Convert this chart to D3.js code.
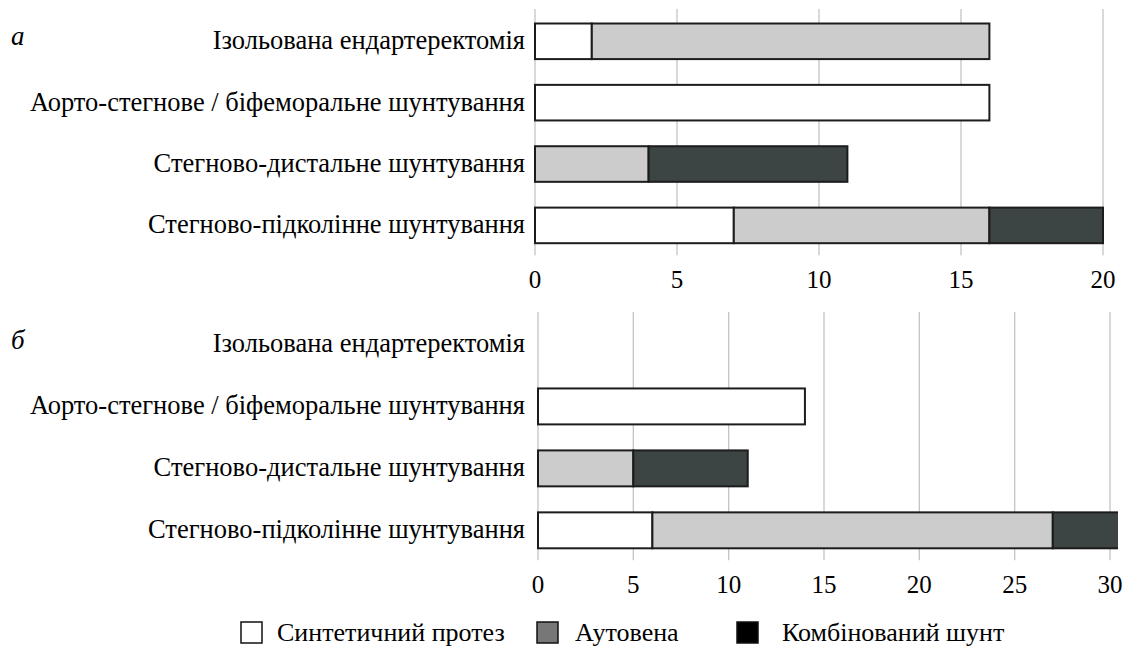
<!DOCTYPE html>
<html>
<head>
<meta charset="utf-8">
<script src="https://cdn.jsdelivr.net/npm/d3@7"></script>
</head>
<body style="margin:0">
<svg id="chart" width="1126" height="649"></svg>
<script>
// Categories (top to bottom)
const categories = [
    "Ізольована ендартеректомія",
    "Аорто-стегнове / біфеморальне шунтування",
    "Стегново-дистальне шунтування",
    "Стегново-підколінне шунтування"
];
const seriesNames = ["Синтетичний протез", "Аутовена", "Комбінований шунт"];

// Panel а
const synthA = [2, 16, 0, 7];
const autoA = [14, 0, 4, 9];
const combA = [0, 0, 7, 4];

// Panel б
const synthB = [0, 14, 0, 6];
const autoB = [0, 0, 5, 21];
const combB = [0, 0, 6, 4];

const ticksA = [0, 5, 10, 15, 20];
const ticksB = [0, 5, 10, 15, 20, 25, 30];

const fills = ["#ffffff", "#cccccc", "#3c4544"];
const legendFills = ["#ffffff", "#777777", "#000000"];

const FONT = "Liberation Serif";

const svg = d3.select("#chart");

function addText(parent) {
    return parent.append("text").style("font-family", `"${FONT}"`);
}

function panel(opts) {
    const { letter, gridTop, bandTop, bandBottom, x0, x1, domainMax, ticks, series, clipRight } = opts;
    const g = svg.append("g");

    const x = d3.scaleLinear().domain([0, domainMax]).range([x0, x1]);
    const y = d3.scaleBand().domain(categories)
        .range([bandTop, bandBottom]).paddingInner(0.42).paddingOuter(0);
    const gridBottom = bandBottom + 12;

    // grid
    g.selectAll(".grid")
        .data(ticks)
        .enter()
        .append("line")
        .attr("x1", (d) => x(d)).attr("x2", (d) => x(d))
        .attr("y1", gridTop).attr("y2", gridBottom)
        .attr("stroke", "#c4c4c4")
        .attr("stroke-width", 1.3);

    // tick labels
    ticks.forEach((t) => {
        addText(g)
            .attr("x", x(t))
            .attr("y", gridBottom + 33)
            .attr("text-anchor", "middle")
            .style("font-size", "25px")
            .text(t);
    });

    // stacked data
    const rows = categories.map((c, i) => ({
        cat: c,
        vals: series.map((s) => s[i])
    }));

    const clipId = "clip-" + letter;
    svg.append("clipPath").attr("id", clipId)
        .append("rect")
        .attr("x", 0).attr("y", 0)
        .attr("width", clipRight).attr("height", 649);

    const bars = g.append("g").attr("clip-path", `url(#${clipId})`);
    rows.forEach((r) => {
        let acc = 0;
        r.vals.forEach((v, k) => {
            if (v > 0) {
                bars.append("rect")
                    .attr("x", x(acc))
                    .attr("y", y(r.cat))
                    .attr("width", x(acc + v) - x(acc))
                    .attr("height", y.bandwidth())
                    .attr("fill", fills[k])
                    .attr("stroke", "#1c1c1c")
                    .attr("stroke-width", 2);
            }
            acc += v;
        });
    });

    // category labels
    categories.forEach((c) => {
        addText(g)
            .attr("x", 525)
            .attr("y", y(c) + y.bandwidth() / 2)
            .attr("dy", "0.3em")
            .attr("text-anchor", "end")
            .style("font-size", "26.5px")
            .text(c);
    });

    addText(g)
        .attr("x", 11)
        .attr("y", y(categories[0]) + y.bandwidth() / 2)
        .attr("dy", "0.15em")
        .style("font-size", "27px")
        .style("font-style", "italic")
        .text(letter);
}

panel({ letter: "а", gridTop: 9, bandTop: 23.5, bandBottom: 243.2, x0: 535, x1: 1103,
        domainMax: 20, ticks: ticksA, series: [synthA, autoA, combA], clipRight: 1126 });
panel({ letter: "б", gridTop: 312, bandTop: 326.5, bandBottom: 548.3, x0: 538, x1: 1110,
        domainMax: 30, ticks: ticksB, series: [synthB, autoB, combB], clipRight: 1118 });

// legend
const legendX = [241, 537, 737];
const legendTextX = [277, 575, 782];
seriesNames.forEach((name, i) => {
    svg.append("rect")
        .attr("x", legendX[i]).attr("y", 622)
        .attr("width", 21).attr("height", 21)
        .attr("fill", legendFills[i])
        .attr("stroke", "#111")
        .attr("stroke-width", 1.5);
    addText(svg)
        .attr("x", legendTextX[i])
        .attr("y", 641)
        .style("font-size", "26px")
        .text(name);
});
</script>
</body>
</html>
